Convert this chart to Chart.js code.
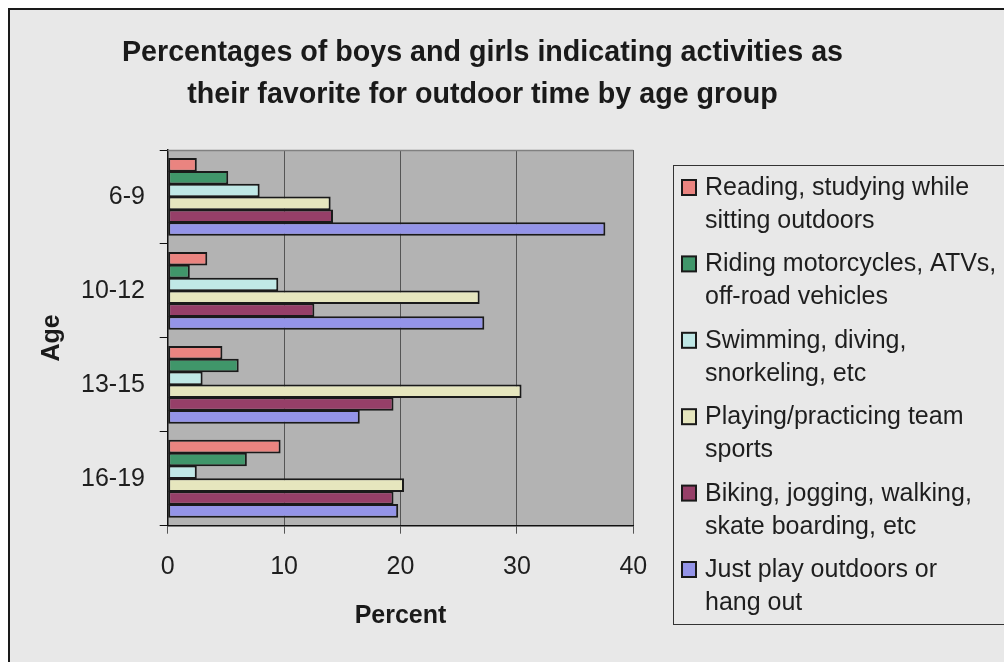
<!DOCTYPE html>
<html>
<head>
<meta charset="utf-8">
<script src="https://cdn.jsdelivr.net/npm/chart.js@4.4.1/dist/chart.umd.min.js"></script>
<style>
  html, body { margin: 0; padding: 0; background: #fff; }
  canvas { display: block; }
</style>
</head>
<body>
<canvas id="ageChart" width="1004" height="662"></canvas>
<script>
// data
const ageGroups = ['6-9', '10-12', '13-15', '16-19'];
const seriesNames = [
  ['Reading, studying while', 'sitting outdoors'],
  ['Riding motorcycles, ATVs,', 'off-road vehicles'],
  ['Swimming, diving,', 'snorkeling, etc'],
  ['Playing/practicing team', 'sports'],
  ['Biking, jogging, walking,', 'skate boarding, etc'],
  ['Just play outdoors or', 'hang out']
];
const reading = [2.5, 3.4, 4.7, 9.7];
const riding = [5.2, 1.9, 6.1, 6.8];
const swimming = [7.9, 9.5, 3.0, 2.5];
const teamSports = [14.0, 26.8, 30.4, 20.3];
const biking = [14.2, 12.6, 19.4, 19.4];
const justPlay = [37.6, 27.2, 16.5, 19.8];
const percentTicks = [0, 10, 20, 30, 40];
const titleLines = [
  'Percentages of boys and girls indicating activities as',
  'their favorite for outdoor time by age group'
];

const seriesValues = [reading, riding, swimming, teamSports, biking, justPlay];
const seriesColors = ['#ea8480', '#40966a', '#c0e8e6', '#e6e6be', '#963f68', '#9494e8'];
const FONT = '"Liberation Sans", Arial, sans-serif';

const frame = {
  id: 'frame',
  beforeDraw(chart) {
    const { ctx, chartArea: a } = chart;
    ctx.save();
    ctx.fillStyle = '#ffffff';
    ctx.fillRect(0, 0, chart.width, chart.height);
    ctx.fillStyle = '#e8e8e8';
    ctx.fillRect(8, 8, chart.width, chart.height);
    ctx.strokeStyle = '#1a1a1a';
    ctx.lineWidth = 2;
    ctx.beginPath();
    ctx.moveTo(9, chart.height + 2);
    ctx.lineTo(9, 9);
    ctx.lineTo(chart.width + 2, 9);
    ctx.stroke();
    ctx.fillStyle = '#b3b3b3';
    ctx.fillRect(a.left, a.top, a.right - a.left, a.bottom - a.top);
    ctx.restore();
  },
  afterDraw(chart) {
    const { ctx, chartArea: a } = chart;
    ctx.save();
    // plot top border
    ctx.strokeStyle = '#808080';
    ctx.lineWidth = 1.5;
    ctx.beginPath();
    ctx.moveTo(a.left, a.top + 0.5);
    ctx.lineTo(a.right, a.top + 0.5);
    ctx.stroke();

    // title, squeezed like the original
    ctx.fillStyle = '#1a1a1a';
    ctx.font = 'bold 30px ' + FONT;
    ctx.textAlign = 'center';
    ctx.textBaseline = 'alphabetic';
    const sx = 721 / ctx.measureText(titleLines[0]).width;
    titleLines.forEach((line, i) => {
      ctx.save();
      ctx.translate(482.5, 61 + i * 42);
      ctx.scale(sx, 1);
      ctx.fillText(line, 0, 0);
      ctx.restore();
    });

    // legend
    ctx.strokeStyle = '#333';
    ctx.lineWidth = 1;
    ctx.strokeRect(673.5, 165.5, 400, 459);
    ctx.font = '25px ' + FONT;
    ctx.textAlign = 'left';
    chart.data.datasets.forEach((ds, i) => {
      const y = 195 + i * 76.4;
      ctx.fillStyle = ds.backgroundColor;
      ctx.fillRect(682, y - 15, 14, 15);
      ctx.strokeStyle = '#1a1a1a';
      ctx.lineWidth = 2;
      ctx.strokeRect(682, y - 15, 14, 15);
      ctx.fillStyle = '#1e1e1e';
      ds.lines.forEach((line, j) => ctx.fillText(line, 705, y + j * 33));
    });
    ctx.restore();
  }
};

new Chart(document.getElementById('ageChart'), {
  type: 'bar',
  data: {
    labels: ageGroups,
    datasets: seriesValues.map((vals, i) => ({
      label: seriesNames[i].join(' '),
      lines: seriesNames[i],
      data: vals,
      backgroundColor: seriesColors[i],
      borderColor: '#1a1a1a',
      borderWidth: 2,
      borderSkipped: false,
      categoryPercentage: 0.82,
      barPercentage: 1.06
    }))
  },
  options: {
    indexAxis: 'y',
    responsive: false,
    animation: false,
    layout: { padding: { left: 8, right: 370.7, top: 150, bottom: 20 } },
    plugins: {
      legend: { display: false },
      title: { display: false },
      tooltip: { enabled: false }
    },
    scales: {
      x: {
        min: 0,
        max: 40,
        afterBuildTicks: (s) => { s.ticks = percentTicks.map(v => ({ value: v })); },
        afterFit: (s) => { s.height = 116.3; },
        ticks: { color: '#1e1e1e', font: { family: FONT, size: 25 }, padding: 18 },
        grid: { color: '#555', lineWidth: 1, tickLength: 8 },
        border: { color: '#111', width: 1.5 },
        title: {
          display: true, text: 'Percent', color: '#1a1a1a',
          font: { family: FONT, size: 25, weight: 'bold' },
          padding: { top: 0, bottom: 11 }
        }
      },
      y: {
        afterFit: (s) => { s.width = 159.7; },
        ticks: { color: '#1e1e1e', font: { family: FONT, size: 25 }, padding: 14.7 },
        grid: { drawOnChartArea: false, color: '#111', tickLength: 8, offset: true },
        border: { color: '#111', width: 1.5 },
        title: {
          display: true, text: 'Age', color: '#1a1a1a',
          font: { family: FONT, size: 25, weight: 'bold' },
          padding: { top: 29, bottom: 0 }
        }
      }
    }
  },
  plugins: [frame]
});
</script>
</body>
</html>
